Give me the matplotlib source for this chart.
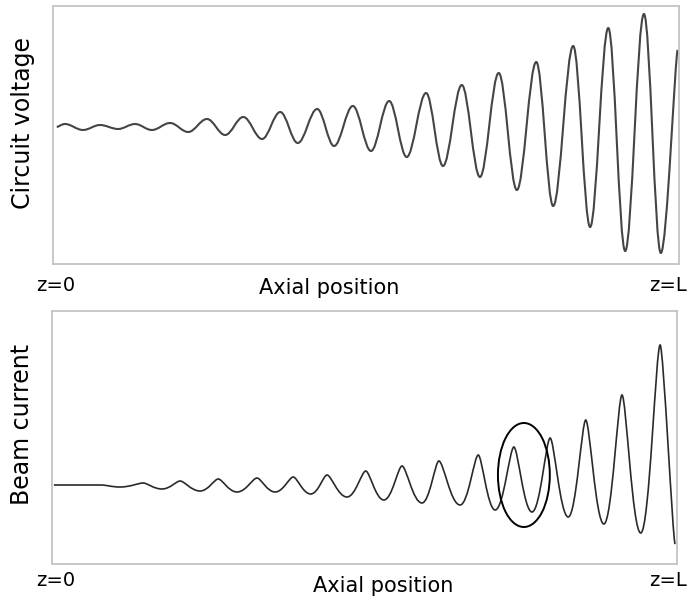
import matplotlib.pyplot as plt
from matplotlib.path import Path
from matplotlib.patches import PathPatch, Ellipse
import numpy as np

# Turning points of the circuit voltage along the tube (z from 0 to L = 1)
volt_z = [0.006, 0.019, 0.048, 0.075, 0.104, 0.131, 0.158, 0.187, 0.216, 0.246,
          0.275, 0.304, 0.334, 0.363, 0.391, 0.422, 0.449, 0.479, 0.508, 0.537,
          0.565, 0.596, 0.623, 0.653, 0.682, 0.712, 0.741, 0.772, 0.799, 0.831,
          0.858, 0.887, 0.914, 0.944, 0.971, 0.998]
volt_v = [0.00, 0.03, -0.03, 0.02, -0.02, 0.03, -0.03, 0.04, -0.05, 0.08,
          -0.08, 0.10, -0.12, 0.15, -0.16, 0.18, -0.19, 0.21, -0.24, 0.26,
          -0.30, 0.34, -0.39, 0.42, -0.50, 0.54, -0.63, 0.65, -0.79, 0.81,
          -1.00, 0.99, -1.24, 1.13, -1.26, 0.77]

# Turning points of the beam current (bunching gives sharp peaks)
curr_z = [0.003, 0.077, 0.109, 0.146, 0.176, 0.205, 0.237, 0.266, 0.296, 0.328,
          0.357, 0.386, 0.414, 0.440, 0.472, 0.502, 0.531, 0.560, 0.592, 0.619,
          0.653, 0.682, 0.709, 0.739, 0.768, 0.797, 0.826, 0.854, 0.883, 0.912,
          0.942, 0.973, 0.997]
curr_i = [0.00, 0.00, -0.02, 0.02, -0.04, 0.04, -0.06, 0.06, -0.07, 0.07,
          -0.07, 0.08, -0.09, 0.10, -0.12, 0.14, -0.15, 0.19, -0.18, 0.24,
          -0.20, 0.30, -0.25, 0.38, -0.27, 0.47, -0.32, 0.65, -0.39, 0.90,
          -0.48, 1.40, -0.59]

# highlighted bunch
bunch_z, bunch_i = 0.755, 0.10


def smooth_path(xs, ys, peak_h, trough_h):
    # cubic segments with flat tangents at every turning point
    n = len(xs)
    hs = []
    for k in range(n):
        if k == 0 or k == n - 1:
            hs.append(0.15)
        elif ys[k] > ys[k - 1] and ys[k] >= ys[k + 1]:
            hs.append(peak_h)
        elif ys[k] < ys[k - 1] and ys[k] <= ys[k + 1]:
            hs.append(trough_h)
        else:
            hs.append(0.36)
    verts = [(xs[0], ys[0])]
    codes = [Path.MOVETO]
    for k in range(n - 1):
        dx = xs[k + 1] - xs[k]
        verts += [(xs[k] + hs[k] * dx, ys[k]),
                  (xs[k + 1] - hs[k + 1] * dx, ys[k + 1]),
                  (xs[k + 1], ys[k + 1])]
        codes += [Path.CURVE4] * 3
    return Path(verts, codes)


def style_box(ax):
    ax.set_xticks([])
    ax.set_yticks([])
    for s in ax.spines.values():
        s.set_color('#c4c4c4')
        s.set_linewidth(1.3)


W, H = 689, 602
fig = plt.figure(figsize=(W / 100, H / 100), dpi=100)

ax1 = fig.add_axes([53 / W, 1 - 264 / H, 626 / W, 258 / H])
ax1.add_patch(PathPatch(smooth_path(volt_z, volt_v, 0.36, 0.36),
                        fill=False, edgecolor='#454545', lw=1.5))
ax1.set_xlim(0, 1)
ax1.set_ylim(-1.37, 1.21)
style_box(ax1)

ax2 = fig.add_axes([52 / W, 1 - 564 / H, 625 / W, 253 / H])
ax2.add_patch(PathPatch(smooth_path(curr_z, curr_i, 0.22, 0.45),
                        fill=False, edgecolor='#2a2a2a', lw=1.2))
ax2.add_patch(Ellipse((bunch_z, bunch_i), 0.083, 1.04, fill=False,
                      edgecolor='black', lw=1.4))
ax2.set_xlim(0, 1)
ax2.set_ylim(-0.79, 1.74)
style_box(ax2)


def ftext(x, y, s, **kw):
    fig.text(x / W, 1 - y / H, s, ha='center', va='center', **kw)


ftext(23, 123, 'Circuit voltage', fontsize=17, rotation=90)
ftext(56, 285, 'z=0', fontsize=14)
ftext(329, 288, 'Axial position', fontsize=15)
ftext(668, 285, 'z=L', fontsize=14)

ftext(22, 424, 'Beam current', fontsize=17, rotation=90)
ftext(56, 581, 'z=0', fontsize=14)
ftext(383, 586, 'Axial position', fontsize=15)
ftext(668, 581, 'z=L', fontsize=14)

fig.savefig('out.png', dpi=100)
